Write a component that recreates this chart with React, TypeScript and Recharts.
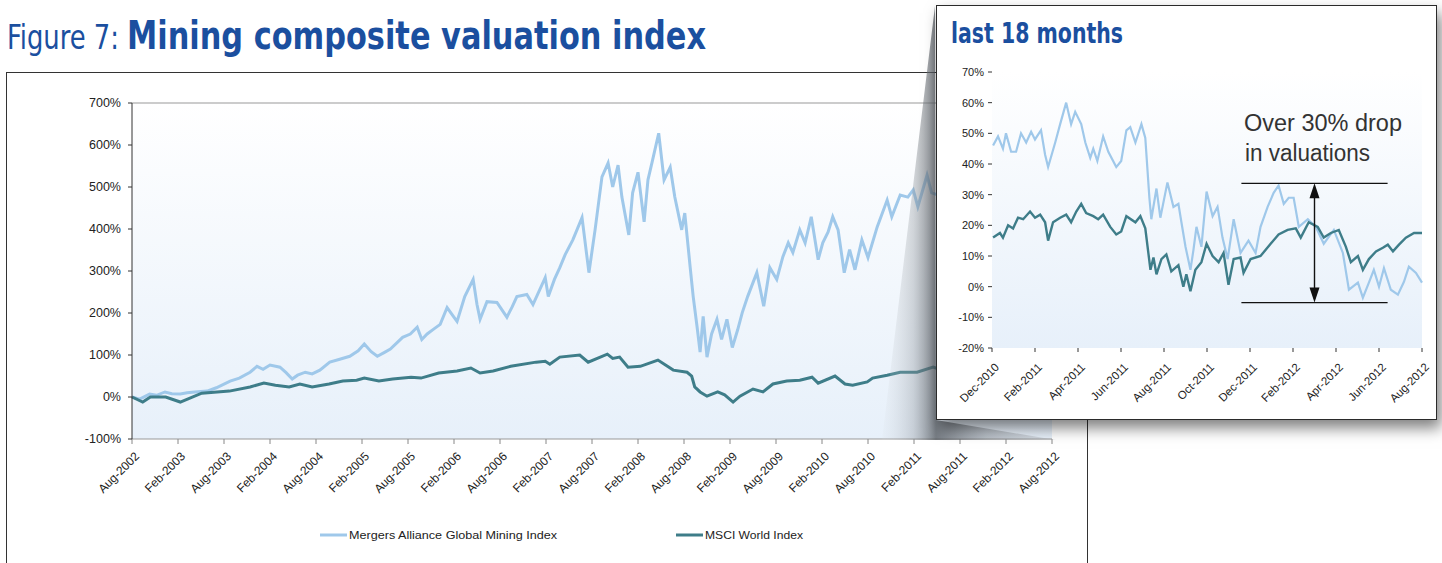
import { LineChart, Line, XAxis, YAxis, CartesianGrid, ReferenceLine } from 'recharts';

const FONT = '"Liberation Sans", Arial, sans-serif';
const NARROW = '"Liberation Sans Narrow", "DejaVu Sans Condensed", "Liberation Sans", sans-serif';
const BLUE = '#1b4f9f';
const MINING_COLOR = '#9fc8ea';
const MSCI_COLOR = '#3e7d89';

const seriesNames = ['Mergers Alliance Global Mining Index', 'MSCI World Index'];

// main chart, x = months since Aug-2002
const mainXLabels = [
  'Aug-2002', 'Feb-2003', 'Aug-2003', 'Feb-2004', 'Aug-2004', 'Feb-2005', 'Aug-2005',
  'Feb-2006', 'Aug-2006', 'Feb-2007', 'Aug-2007', 'Feb-2008', 'Aug-2008', 'Feb-2009',
  'Aug-2009', 'Feb-2010', 'Aug-2010', 'Feb-2011', 'Aug-2011', 'Feb-2012', 'Aug-2012',
];
const mainYTicks = [-100, 0, 100, 200, 300, 400, 500, 600, 700];

const mainMining: [number, number][] = [
  [0, 0], [1, -5], [2.3, 7], [3.2, 4], [4.3, 12], [5.2, 8], [6.3, 7], [7.2, 10], [8.2, 12],
  [9.8, 14], [11, 22], [12.8, 38], [14, 45], [15.4, 59], [16.3, 73], [17.1, 66], [18, 76],
  [19.3, 71], [20.1, 58], [20.9, 43], [21.6, 52], [22.6, 59], [23.5, 55], [24.5, 64],
  [25.8, 83], [27.1, 90], [28.4, 97], [29.5, 110], [30.3, 126], [31.2, 108], [32, 97],
  [33, 107], [33.7, 114], [35.3, 142], [36.3, 150], [37.2, 166], [37.8, 137], [38.5, 150],
  [39.3, 161], [40.2, 173], [41.1, 213], [41.8, 195], [42.4, 180], [43.4, 239], [44.5, 280],
  [45, 220], [45.4, 185], [46.3, 227], [47.6, 225], [48.9, 190], [49.6, 215], [50.2, 239],
  [51.5, 244], [52.3, 220], [53.9, 284], [54.3, 239], [55.1, 280], [55.8, 308], [56.5, 339],
  [57.5, 374], [58.7, 427], [59.6, 296], [60.4, 398], [61.3, 524], [62.1, 557], [62.7, 500],
  [63.4, 552], [63.9, 476], [64.8, 386], [65.3, 486], [66, 535], [66.8, 417], [67.3, 517],
  [67.9, 564], [68.7, 628], [69.4, 517], [70.2, 547], [70.8, 476], [71.7, 398], [72.1, 438],
  [72.8, 310], [73.2, 239], [73.7, 168], [74.1, 107], [74.5, 192], [75, 95], [75.6, 150],
  [76.3, 185], [76.9, 137], [77.6, 185], [78.3, 118], [79, 160], [79.6, 201], [80.3, 239],
  [81.5, 296], [82.4, 216], [83.2, 308], [84.1, 280], [84.9, 334], [85.6, 367], [86.2, 344],
  [87.1, 398], [87.8, 367], [88.6, 429], [89.5, 327], [90.1, 367], [90.8, 393], [91.4, 429],
  [92.1, 398], [92.9, 296], [93.6, 351], [94.3, 303], [95.2, 374], [96, 332], [97.2, 405],
  [98.5, 469], [99.1, 429], [100.2, 481], [101.2, 476], [101.9, 493], [102.5, 453],
  [103.7, 528], [104.3, 486], [107, 470], [110, 420], [112, 340], [116, 380], [118, 300],
  [120, 310],
];

const mainMsci: [number, number][] = [
  [0, 0], [1.4, -12], [2.4, 0], [4.4, 0], [6.3, -12], [9.1, 9], [12.7, 14], [15.4, 24],
  [17.2, 33], [18.7, 28], [20.5, 24], [21.9, 31], [23.5, 24], [25.7, 31], [27.5, 38],
  [29.3, 40], [30.3, 45], [32.2, 38], [34, 43], [36.4, 47], [37.7, 45], [40, 57],
  [42.4, 62], [44.2, 69], [45.4, 57], [47.1, 62], [49.4, 73], [52.7, 83], [53.9, 85],
  [54.5, 78], [55.8, 95], [58.4, 100], [59.5, 83], [62, 102], [62.7, 92], [63.6, 95],
  [64.7, 71], [66.3, 73], [68.6, 88], [70.6, 64], [72.4, 59], [73, 50], [73.4, 24],
  [74.1, 12], [75, 2], [76.4, 12], [77.3, 5], [78.4, -12], [79.3, 2], [81, 19],
  [82.3, 12], [83.6, 31], [85.4, 38], [87.1, 40], [88.7, 47], [89.5, 33], [91.7, 50],
  [93, 31], [94, 28], [95.9, 36], [96.6, 45], [98.5, 52], [100.2, 59], [102.4, 59],
  [104.5, 71], [107, 55], [110, 45], [113, 40], [116, 60], [118, 50], [120, 62],
];

// inset, x = months since Dec-2010
const insetXLabels = [
  'Dec-2010', 'Feb-2011', 'Apr-2011', 'Jun-2011', 'Aug-2011', 'Oct-2011',
  'Dec-2011', 'Feb-2012', 'Apr-2012', 'Jun-2012', 'Aug-2012',
];
const insetYTicks = [-20, -10, 0, 10, 20, 30, 40, 50, 60, 70];

const insetMining: [number, number][] = [
  [0.05, 46], [0.28, 49], [0.51, 45], [0.65, 50], [0.89, 44], [1.12, 44], [1.35, 50],
  [1.59, 47], [1.82, 50.5], [2, 48], [2.28, 51], [2.47, 43], [2.61, 39], [2.94, 47],
  [3.17, 53], [3.45, 60], [3.68, 53], [3.87, 57], [4.15, 53], [4.34, 47], [4.57, 42],
  [4.71, 45], [4.9, 41], [5.17, 49], [5.41, 44], [5.78, 39], [6.01, 41], [6.25, 51],
  [6.43, 52], [6.67, 47], [6.95, 53], [7.13, 48.5], [7.32, 29], [7.41, 22], [7.65, 32],
  [7.83, 22.5], [8.16, 34], [8.44, 26], [8.67, 27], [8.81, 21], [9, 13], [9.23, 5.5],
  [9.37, 12], [9.51, 19.5], [9.74, 13], [9.98, 31], [10.26, 23], [10.49, 26],
  [10.72, 16], [10.96, 9], [11.24, 22], [11.56, 11], [11.93, 15], [12.26, 11],
  [12.49, 19.5], [12.82, 26], [13.1, 30.6], [13.33, 33], [13.57, 27], [13.8, 29],
  [14.03, 29], [14.27, 19.5], [14.69, 22], [15.06, 19.5], [15.43, 14], [15.9, 18.5],
  [16.32, 11], [16.6, -1], [17.02, 1.3], [17.25, -3.6], [17.53, 1.3], [17.76, 5.5],
  [18, 0], [18.23, 6], [18.55, -1], [18.88, -2.6], [19.16, 1.6], [19.39, 6.5],
  [19.72, 4.5], [20, 1.3],
];

const insetMsci: [number, number][] = [
  [0.05, 16], [0.37, 17.5], [0.51, 16], [0.75, 20], [0.98, 19], [1.21, 22.5], [1.45, 22],
  [1.77, 24.5], [2, 22.5], [2.24, 23.5], [2.47, 21], [2.61, 15], [2.84, 21], [3.17, 22.5],
  [3.45, 23.5], [3.68, 21], [3.92, 24.5], [4.15, 27], [4.38, 24], [4.71, 23], [4.94, 22],
  [5.17, 23.5], [5.5, 19.5], [5.78, 17], [6.01, 18], [6.25, 23], [6.67, 21], [6.9, 23],
  [7.13, 19], [7.37, 5.5], [7.51, 9.5], [7.65, 4], [7.88, 9], [8.11, 10.5], [8.34, 5],
  [8.67, 7], [8.9, 0], [9.04, 4], [9.23, -1.5], [9.46, 5.5], [9.74, 8], [9.98, 14],
  [10.26, 10], [10.54, 8], [10.77, 11], [11, 0.6], [11.24, 9], [11.56, 9.5], [11.7, 4.5],
  [12.03, 9], [12.49, 10], [12.96, 14], [13.33, 17], [13.75, 18.5], [14.13, 19],
  [14.36, 16], [14.73, 21], [15.15, 19.5], [15.43, 16], [15.76, 17.5], [16.13, 18.5],
  [16.46, 13], [16.69, 8], [17.02, 10], [17.25, 5.5], [17.53, 9], [17.86, 11.5],
  [18.18, 12.7], [18.41, 13.7], [18.65, 11.5], [18.93, 13.7], [19.25, 16], [19.63, 17.5],
  [20, 17.5],
];

// "Over 30% drop" bracket, in inset units
const dropHigh = 33.7;
const dropLow = -5.2;
const dropFrom = 11.6;
const dropTo = 18.4;
const dropAt = 15.0;

const toPoints = (arr: [number, number][]) => arr.map(([m, v]) => ({ m, v }));

const RotTick = ({ x, y, payload, labels, step, size, dx, dy }: any) => {
  const label = labels[Math.round(payload.value / step)];
  return (
    <g transform={`translate(${x + dx},${y + dy})`}>
      <text transform="rotate(-45)" textAnchor="end" fontSize={size} fontFamily={FONT} fill="#222" dy="0.35em">
        {label}
      </text>
    </g>
  );
};

const DoubleArrow = (props: any) => {
  const { x1, y1, y2 } = props;
  const top = Math.min(y1, y2);
  const bottom = Math.max(y1, y2);
  const hw = 5;
  const hl = 15;
  return (
    <g>
      <line x1={x1} y1={top + 4} x2={x1} y2={bottom - 4} stroke="#111" strokeWidth={1.4} />
      <polygon points={`${x1},${top} ${x1 - hw},${top + hl} ${x1 + hw},${top + hl}`} fill="#111" />
      <polygon points={`${x1},${bottom} ${x1 - hw},${bottom - hl} ${x1 + hw},${bottom - hl}`} fill="#111" />
    </g>
  );
};

export default function App() {
  const mainTicks = mainXLabels.map((_, i) => i * 6);
  const insetTicks = insetXLabels.map((_, i) => i * 2);

  return (
    <div style={{ position: 'absolute', left: 0, top: 0, width: 1442, height: 563, background: '#fff', overflow: 'hidden', fontFamily: FONT }}>
      <svg width={0} height={0} style={{ position: 'absolute' }}>
        <defs>
          <linearGradient id="plotBg" x1="0" y1="0" x2="0" y2="1">
            <stop offset="0" stopColor="#ffffff" />
            <stop offset="1" stopColor="#e7f0fa" />
          </linearGradient>
          <linearGradient id="coneBg" x1="0" y1="0" x2="1" y2="0">
            <stop offset="0" stopColor="#d8dce0" stopOpacity={0.1} />
            <stop offset="0.18" stopColor="#8a9096" stopOpacity={0.35} />
            <stop offset="0.31" stopColor="#52575d" stopOpacity={0.75} />
            <stop offset="0.6" stopColor="#7d8288" stopOpacity={0.45} />
            <stop offset="1" stopColor="#b0b4b8" stopOpacity={0.3} />
          </linearGradient>
        </defs>
      </svg>

      {/* outer frame */}
      <div style={{ position: 'absolute', left: 6, top: 72, width: 930, height: 1, background: '#333' }} />
      <div style={{ position: 'absolute', left: 6, top: 72, width: 1, height: 491, background: '#333' }} />
      <div style={{ position: 'absolute', left: 1087, top: 420, width: 1, height: 143, background: '#333' }} />

      <div style={{ position: 'absolute', left: 0, top: 0 }}>
        <LineChart width={1100} height={563} margin={{ top: 103, right: 48, bottom: 94, left: 72 }}>
          <CartesianGrid horizontal={false} vertical={false} fill="url(#plotBg)" />
          <XAxis
            type="number"
            dataKey="m"
            domain={[0, 120]}
            ticks={mainTicks}
            interval={0}
            height={30}
            tickSize={5}
            axisLine={{ stroke: '#999' }}
            tickLine={{ stroke: '#888' }}
            tick={<RotTick labels={mainXLabels} step={6} size={12} dx={5} dy={8} />}
          />
          <YAxis
            type="number"
            domain={[-100, 700]}
            ticks={mainYTicks}
            interval={0}
            width={60}
            tickSize={4}
            tickMargin={7}
            axisLine={{ stroke: '#333' }}
            tickLine={{ stroke: '#333' }}
            tickFormatter={(v) => `${v}%`}
            tick={{ fontSize: 12.5, fill: '#222', fontFamily: FONT }}
          />
          <ReferenceLine y={700} stroke="#999" strokeWidth={1.2} />
          <Line data={toPoints(mainMining)} dataKey="v" name={seriesNames[0]} type="linear" stroke={MINING_COLOR} strokeWidth={3} dot={false} isAnimationActive={false} />
          <Line data={toPoints(mainMsci)} dataKey="v" name={seriesNames[1]} type="linear" stroke={MSCI_COLOR} strokeWidth={3} dot={false} isAnimationActive={false} />
        </LineChart>
      </div>

      <svg width={1442} height={563} style={{ position: 'absolute', left: 0, top: 0, pointerEvents: 'none' }}>
        {/* zoom cone */}
        <polygon points="882,440 935,6 936,420 1056,440" fill="url(#coneBg)" />
        {/* title: narrow glyphs stretched upwards to mimic a condensed face */}
        <g transform="translate(7,49) scale(1,1.5)">
          <text x={0} y={0} fontFamily={NARROW} fontSize={23} fill={BLUE} textLength={112} lengthAdjust="spacingAndGlyphs">Figure 7:</text>
        </g>
        <g transform="translate(127,49) scale(1,1.35)">
          <text x={0} y={0} fontFamily={NARROW} fontWeight="bold" fontSize={29} fill={BLUE} textLength={579} lengthAdjust="spacingAndGlyphs">Mining composite valuation index</text>
        </g>
        {/* legend */}
        <line x1={320} y1={535} x2={347} y2={535} stroke={MINING_COLOR} strokeWidth={3} />
        <text x={349} y={539} fontSize={11.5} fill="#222" textLength={208} lengthAdjust="spacingAndGlyphs">{seriesNames[0]}</text>
        <line x1={676} y1={535} x2={703} y2={535} stroke={MSCI_COLOR} strokeWidth={3} />
        <text x={705} y={539} fontSize={11.5} fill="#222" textLength={98} lengthAdjust="spacingAndGlyphs">{seriesNames[1]}</text>
      </svg>

      {/* inset: last 18 months */}
      <div style={{ position: 'absolute', left: 936, top: 5, width: 501, height: 415, boxSizing: 'border-box', border: '1px solid #2a2a2a', background: '#fff', boxShadow: '4px 8px 14px rgba(0,0,0,0.5)' }}>
        <LineChart width={499} height={413} margin={{ top: 66, right: 14, bottom: 41, left: 7 }}>
          <CartesianGrid horizontal={false} vertical={false} fill="url(#plotBg)" />
          <XAxis
            type="number"
            dataKey="m"
            domain={[0, 20]}
            ticks={insetTicks}
            interval={0}
            height={30}
            tickSize={4}
            axisLine={false}
            tickLine={{ stroke: '#333' }}
            tick={<RotTick labels={insetXLabels} step={2} size={11.5} dx={5} dy={11} />}
          />
          <YAxis
            type="number"
            domain={[-20, 70]}
            ticks={insetYTicks}
            interval={0}
            width={48}
            tickSize={4}
            tickMargin={4}
            axisLine={false}
            tickLine={{ stroke: '#333' }}
            tickFormatter={(v) => `${v}%`}
            tick={{ fontSize: 11, fill: '#222', fontFamily: FONT }}
          />
          <Line data={toPoints(insetMining)} dataKey="v" name={seriesNames[0]} type="linear" stroke={MINING_COLOR} strokeWidth={2.2} dot={false} isAnimationActive={false} />
          <Line data={toPoints(insetMsci)} dataKey="v" name={seriesNames[1]} type="linear" stroke={MSCI_COLOR} strokeWidth={2.4} dot={false} isAnimationActive={false} />
          <ReferenceLine segment={[{ x: dropFrom, y: dropHigh }, { x: dropTo, y: dropHigh }]} stroke="#111" strokeWidth={1.3} />
          <ReferenceLine segment={[{ x: dropFrom, y: dropLow }, { x: dropTo, y: dropLow }]} stroke="#111" strokeWidth={1.3} />
          <ReferenceLine segment={[{ x: dropAt, y: dropHigh }, { x: dropAt, y: dropLow }]} shape={<DoubleArrow />} />
        </LineChart>
        <svg width={499} height={413} style={{ position: 'absolute', left: 0, top: 0, pointerEvents: 'none' }}>
          <g transform="translate(14,37) scale(1,1.25)">
            <text x={0} y={0} fontFamily={NARROW} fontWeight="bold" fontSize={22} fill={BLUE} textLength={172} lengthAdjust="spacingAndGlyphs">last 18 months</text>
          </g>
          <text x={307} y={125} fontSize={23} fill="#333" textLength={158} lengthAdjust="spacingAndGlyphs">Over 30% drop</text>
          <text x={308} y={155} fontSize={23} fill="#333" textLength={125} lengthAdjust="spacingAndGlyphs">in valuations</text>
        </svg>
      </div>
    </div>
  );
}
